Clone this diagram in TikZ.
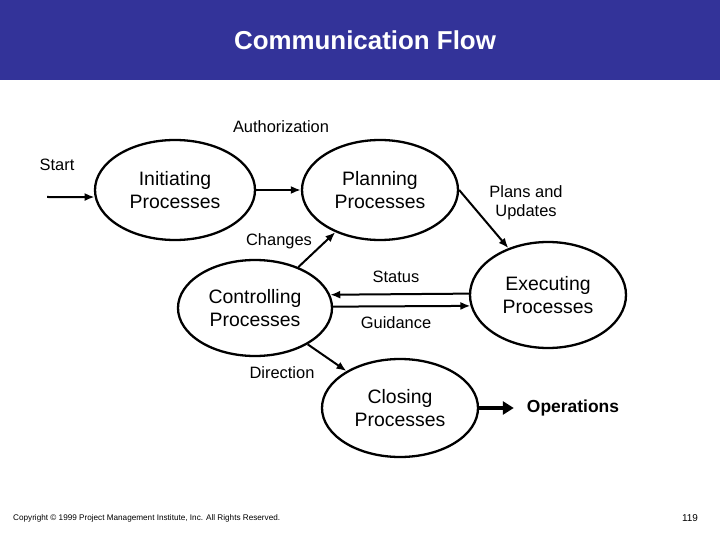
\documentclass[tikz,border=0pt]{standalone}
\usepackage{fontspec}
\setmainfont{Liberation Sans}
\usetikzlibrary{shapes.geometric,arrows.meta}
\definecolor{titlebar}{RGB}{51,51,153}

\begin{document}
\begin{tikzpicture}[x=1bp,y=-1bp,
    process/.style={ellipse, draw, line width=2.3bp, inner sep=0pt, align=center,
      font=\fontsize{19.5}{23.5}\selectfont},
    flowlabel/.style={inner sep=0pt, align=center, font=\fontsize{16.5}{19}\selectfont},
    flow/.style={line width=2bp, -{Latex[length=10bp,width=8bp]}}
    ]
    \useasboundingbox (0,0) rectangle (720,540);
    \fill[titlebar] (0,0) rectangle (720,80);
    \node[text=white, font=\bfseries\fontsize{26}{30}\selectfont] (title) at (365,40) {Communication Flow};

    % processes
    \node[process, minimum width=160bp, minimum height=100bp] (init) at (175,190) {Initiating\\Processes};
    \node[process, minimum width=156bp, minimum height=100bp] (plan) at (380,190) {Planning\\Processes};
    \node[process, minimum width=154bp, minimum height=96bp] (ctrl) at (255,308) {Controlling\\Processes};
    \node[process, minimum width=156bp, minimum height=106bp] (exec) at (548,295) {Executing\\Processes};
    \node[process, minimum width=156bp, minimum height=98bp] (close) at (400,408) {Closing\\Processes};

    % labels
    \node[flowlabel] (startlbl) at (57,165) {Start};
    \node[flowlabel] (auth) at (281,127) {Authorization};
    \node[flowlabel] (changes) at (279,241) {Changes};
    \node[flowlabel] (plans) at (526,203) {Plans and\\Updates};
    \node[flowlabel] (status) at (396,277) {Status};
    \node[flowlabel] (guid) at (396,323) {Guidance};
    \node[flowlabel] (dir) at (282,373) {Direction};
    \node[inner xsep=13bp, inner ysep=0pt, font=\bfseries\fontsize{17.5}{20}\selectfont] (ops) at (573,408) {Operations};

    % connectors
    \coordinate (start) at (47,197);
    \draw[flow] (start) -- (init.185);
    \draw[flow] (init.east) -- (plan.west);
    \draw[flow] (ctrl) -- (plan);
    \draw[flow] (plan.east) -- (exec);
    \draw[flow] (exec.179.3) -- (ctrl.10.8);
    \draw[flow] (ctrl.1.5) -- (exec.188.2);
    \draw[flow] (ctrl) -- (close);
    \draw[line width=3.5bp, -{Triangle[length=11bp,width=13bp]}] (close.east) -- (ops.west);

    % footer
    \node[anchor=west, inner sep=0pt, font=\fontsize{8.2}{9}\selectfont] (copy) at (13,518) {Copyright © 1999 Project Management Institute, Inc. All Rights Reserved.};
    \node[inner sep=0pt, font=\fontsize{10}{11}\selectfont] (page) at (690,518) {119};
\end{tikzpicture}
\end{document}
